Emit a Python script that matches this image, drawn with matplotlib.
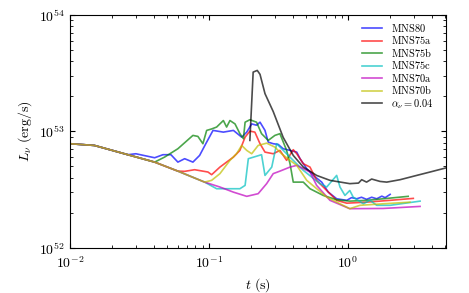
import matplotlib
matplotlib.use("Agg")
import matplotlib.pyplot as plt
import numpy as np

plt.rcParams['mathtext.fontset'] = 'cm'
plt.rcParams['font.family'] = 'serif'
plt.rcParams['font.serif'] = ['cmr10', 'DejaVu Serif']
plt.rcParams['axes.formatter.use_mathtext'] = True
plt.rcParams['axes.unicode_minus'] = False

# luminosities in units of 1e52 erg/s, times in s
t_common = [0.010, 0.015, 0.0261, 0.0407, 0.0598, 0.0931, 0.120, 0.150, 0.187]
L_common = [7.84, 7.58, 6.31, 5.45, 4.56, 3.67, 3.33, 3.01, 2.77]

# MNS80 (branches after 3rd common point)
t_mns80 = [0.0298, 0.0407, 0.0467, 0.0533, 0.0598, 0.0669, 0.0767, 0.0857, 0.0952,
           0.107, 0.127, 0.150, 0.172, 0.187, 0.203, 0.220, 0.233, 0.253, 0.267,
           0.290, 0.315, 0.342, 0.383, 0.428, 0.452, 0.505, 0.563, 0.647, 0.722,
           0.829, 0.98, 1.06, 1.155, 1.25, 1.36, 1.48, 1.61, 1.75, 1.85, 2.01]
L_mns80 = [6.43, 5.94, 6.31, 6.31, 5.45, 5.83, 5.45, 6.22, 7.89,
           10.2, 9.86, 10.2, 8.93, 9.86, 11.6, 11.3, 12.0, 10.2, 8.09,
           7.84, 7.73, 7.10, 6.87, 6.64, 5.83, 4.79, 4.19, 3.67, 3.01,
           2.64, 2.56, 2.70, 2.64, 2.72, 2.61, 2.72, 2.64, 2.78, 2.70, 2.88]

# MNS75a (branches after 5th common point)
t_mns75a = [0.0669, 0.0789, 0.0984, 0.1046, 0.120, 0.134, 0.150, 0.167, 0.182,
            0.197, 0.214, 0.233, 0.253, 0.290, 0.324, 0.362, 0.404, 0.428, 0.477,
            0.533, 0.595, 0.703, 0.829, 0.98, 1.36, 2.01, 2.95]
L_mns75a = [4.54, 4.69, 4.48, 4.25, 4.94, 5.45, 6.02, 6.87, 8.93,
            10.06, 9.86, 7.84, 6.64, 6.43, 6.87, 5.64, 6.97, 6.43, 5.28,
            4.94, 3.80, 3.11, 2.56, 2.42, 2.47, 2.56, 2.66]

# MNS75b (branches after 4th common point)
t_mns75b = [0.048, 0.0598, 0.0767, 0.0833, 0.0905, 0.0963, 0.1046, 0.1136, 0.127,
            0.134, 0.1416, 0.154, 0.167, 0.177, 0.182, 0.197, 0.220, 0.239, 0.267,
            0.298, 0.324, 0.362, 0.383, 0.404, 0.477, 0.533, 0.664, 0.829, 1.03,
            1.36, 1.79, 2.71]
L_mns75b = [6.02, 7.10, 9.24, 9.06, 7.84, 10.2, 10.5, 10.9, 12.4,
            10.9, 12.4, 11.6, 9.56, 8.66, 12.0, 12.6, 12.0, 9.56, 8.37,
            9.24, 9.56, 6.87, 5.28, 3.67, 3.67, 3.22, 2.82, 2.59, 2.52,
            2.56, 2.64, 2.77]

# MNS75c (branches after 6th common point)
t_mns75c = [0.1136, 0.167, 0.182, 0.192, 0.239, 0.253, 0.283, 0.307, 0.362, 0.404,
            0.477, 0.629, 0.703, 0.829, 0.876, 0.951, 1.03, 1.09, 1.29, 1.44,
            1.61, 2.01, 3.30]
L_mns75c = [3.22, 3.22, 3.44, 5.83, 6.31, 4.19, 4.94, 7.84, 6.43, 5.64,
            4.63, 3.56, 3.33, 4.19, 3.33, 2.82, 3.11, 2.73, 2.39, 2.56,
            2.32, 2.32, 2.52]

# MNS70a (continues the common track)
t_mns70a = [0.226, 0.260, 0.290, 0.324, 0.383, 0.428, 0.477, 0.533, 0.595, 0.742,
            1.03, 1.79, 3.30]
L_mns70a = [2.92, 3.56, 4.34, 4.56, 4.94, 5.11, 4.79, 4.48, 3.44, 2.56,
            2.17, 2.18, 2.27]

# MNS70b (branches after 6th common point)
t_mns70b = [0.1046, 0.120, 0.1416, 0.158, 0.172, 0.187, 0.203, 0.226, 0.260, 0.298,
            0.333, 0.383, 0.428, 0.505, 0.703, 1.03, 1.22, 1.79, 2.79]
L_mns70b = [3.80, 4.34, 5.64, 6.43, 7.58, 6.87, 6.43, 7.58, 7.93, 7.33,
            6.43, 5.64, 5.11, 3.80, 2.73, 2.17, 2.32, 2.39, 2.47]

# alpha_nu = 0.04
t_alpha = [0.197, 0.208, 0.2226, 0.233, 0.253, 0.290, 0.342, 0.404, 0.477, 0.595,
           0.742, 1.03, 1.19, 1.255, 1.36, 1.48, 1.70, 1.90, 2.37, 3.12, 3.89, 5.2]
L_alpha = [8.37, 32.3, 33.4, 30.9, 21.1, 14.8, 8.88, 6.22, 4.94, 4.19,
           3.80, 3.56, 3.60, 3.85, 3.67, 3.90, 3.72, 3.67, 3.85, 4.19, 4.48, 4.9]

series = [
    ("MNS80", 'b', 3, t_mns80, L_mns80),
    ("MNS75a", 'r', 5, t_mns75a, L_mns75a),
    ("MNS75b", 'g', 4, t_mns75b, L_mns75b),
    ("MNS75c", 'c', 6, t_mns75c, L_mns75c),
    ("MNS70a", 'm', 9, t_mns70a, L_mns70a),
    ("MNS70b", 'y', 6, t_mns70b, L_mns70b),
]

fig = plt.figure(figsize=(4.69, 2.93), dpi=100)
ax = fig.add_axes([0.149, 0.154, 0.802, 0.795])

for name, col, nb, t, L in series:
    tt = np.array(t_common[:nb] + t)
    LL = np.array(L_common[:nb] + L) * 1e52
    ax.plot(tt, LL, color=col, alpha=0.7, lw=1.2, label=r"$\mathrm{%s}$" % name)

ax.plot(t_alpha, np.array(L_alpha) * 1e52, color='k', alpha=0.7, lw=1.2,
        label=r"$\alpha_\nu=0.04$")

ax.set_xscale('log')
ax.set_yscale('log')
ax.set_xlim(0.01, 5.07)
ax.set_ylim(1e52, 1e54)
ax.set_xlabel(r"$t\ \mathrm{(s)}$", fontsize=10)
ax.set_ylabel(r"$L_\nu\ \mathrm{(erg/s)}$", fontsize=10)
ax.tick_params(which='both', direction='in', top=True, right=True, labelsize=10)
ax.tick_params(which='major', length=3.5)
ax.tick_params(which='minor', length=2)
ax.tick_params(axis='x', which='major', pad=5)

ax.legend(loc='upper right', fontsize=7.5, frameon=False, handlelength=2.0,
          labelspacing=0.05, borderaxespad=0.25, bbox_to_anchor=(0.985, 1.0))

fig.savefig('out.png', dpi=100)
